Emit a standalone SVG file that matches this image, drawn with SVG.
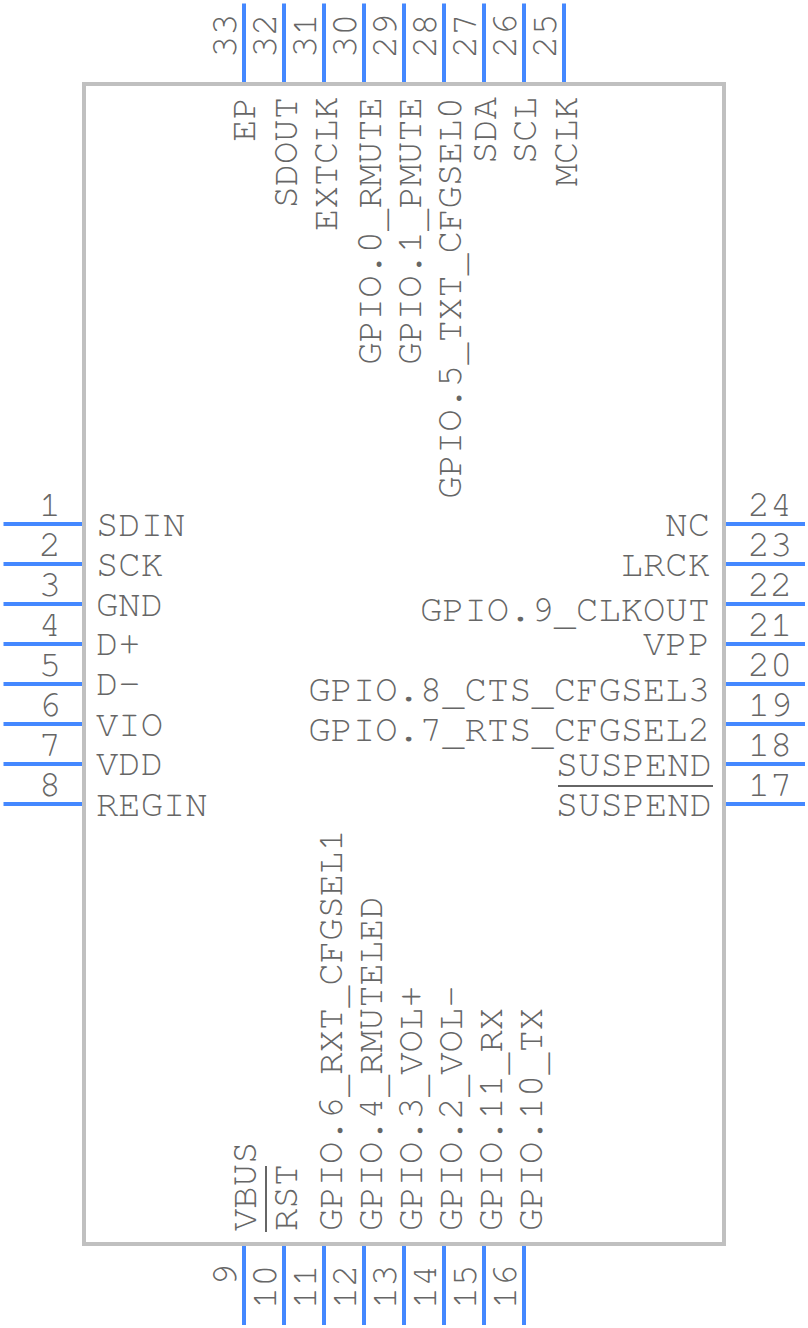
<svg xmlns="http://www.w3.org/2000/svg" width="808" height="1328" viewBox="0 0 808 1328">
<style>
text{font-family:"FreeMono","Liberation Mono",monospace;font-size:37.2px;fill:#666}
.e{text-anchor:end}
.m{text-anchor:middle}
.pin{stroke:#4488ff;stroke-width:4;fill:none}
.bar{stroke:#666;stroke-width:2}
#body rect{fill:#fff;stroke:#c0c0c0;stroke-width:4}
</style>
<rect width="808" height="1328" fill="#fff"/>
<g id="body"><rect x="84" y="84" width="640" height="1160"/></g>
<g id="connectors" class="pin">
<path d="M3.5 524H82M3.5 564H82M3.5 604H82M3.5 644H82M3.5 684H82M3.5 724H82M3.5 764H82M3.5 804H82"/>
<path d="M726 524H805M726 564H805M726 604H805M726 644H805M726 684H805M726 724H805M726 764H805M726 804H805"/>
<path d="M244 3.5V82M284 3.5V82M324 3.5V82M364 3.5V82M404 3.5V82M444 3.5V82M484 3.5V82M524 3.5V82M564 3.5V82"/>
<path d="M244 1246V1325M284 1246V1325M324 1246V1325M364 1246V1325M404 1246V1325M444 1246V1325M484 1246V1325M524 1246V1325"/>
</g>
<g id="left-pins">
<g id="pin1"><text x="50" y="516" class="m">1</text><text x="96" y="536">SDIN</text></g>
<g id="pin2"><text x="50" y="556" class="m">2</text><text x="96" y="576">SCK</text></g>
<g id="pin3"><text x="50" y="596" class="m">3</text><text x="96" y="616">GND</text></g>
<g id="pin4"><text x="50" y="636" class="m">4</text><text x="96" y="655">D+</text></g>
<g id="pin5"><text x="50" y="676" class="m">5</text><text x="96" y="695">D-</text></g>
<g id="pin6"><text x="50" y="716" class="m">6</text><text x="96" y="736">VIO</text></g>
<g id="pin7"><text x="50" y="756" class="m">7</text><text x="96" y="775">VDD</text></g>
<g id="pin8"><text x="50" y="796" class="m">8</text><text x="96" y="816">REGIN</text></g>
</g>
<g id="right-pins">
<g id="pin24"><text x="770" y="516" class="m">24</text><text x="710" y="536" class="e">NC</text></g>
<g id="pin23"><text x="770" y="556" class="m">23</text><text x="710" y="576" class="e">LRCK</text></g>
<g id="pin22"><text x="770" y="596" class="m">22</text><text x="710" y="621" class="e">GPIO.9<tspan dy="4">_</tspan><tspan dy="-4">CLKOUT</tspan></text></g>
<g id="pin21"><text x="770" y="636" class="m">21</text><text x="710" y="655" class="e">VPP</text></g>
<g id="pin20"><text x="770" y="676" class="m">20</text><text x="710" y="701" class="e">GPIO.8<tspan dy="4">_</tspan><tspan dy="-4">CTS</tspan><tspan dy="4">_</tspan><tspan dy="-4">CFGSEL3</tspan></text></g>
<g id="pin19"><text x="770" y="716" class="m">19</text><text x="710" y="741" class="e">GPIO.7<tspan dy="4">_</tspan><tspan dy="-4">RTS</tspan><tspan dy="4">_</tspan><tspan dy="-4">CFGSEL2</tspan></text></g>
<g id="pin18"><text x="770" y="756" class="m">18</text><text x="712" y="776" class="e">SUSPEND</text></g>
<g id="pin17"><text x="770" y="796" class="m">17</text><text x="712" y="816" class="e">SUSPEND</text><path class="bar" d="M558 786H713"/></g>
</g>
<g id="top-pins">
<g id="pin33"><text transform="translate(236 58) rotate(-90)">33</text><text transform="translate(255 97) rotate(-90)" class="e">EP</text></g>
<g id="pin32"><text transform="translate(276 58) rotate(-90)">32</text><text transform="translate(297 97) rotate(-90)" class="e">SDOUT</text></g>
<g id="pin31"><text transform="translate(316 58) rotate(-90)">31</text><text transform="translate(337 97) rotate(-90)" class="e">EXTCLK</text></g>
<g id="pin30"><text transform="translate(356 58) rotate(-90)">30</text><text transform="translate(381 97) rotate(-90)" class="e">GPIO.0<tspan dy="4">_</tspan><tspan dy="-4">RMUTE</tspan></text></g>
<g id="pin29"><text transform="translate(396 58) rotate(-90)">29</text><text transform="translate(421 97) rotate(-90)" class="e">GPIO.1<tspan dy="4">_</tspan><tspan dy="-4">PMUTE</tspan></text></g>
<g id="pin28"><text transform="translate(436 58) rotate(-90)">28</text><text transform="translate(461 97) rotate(-90)" class="e">GPIO.5<tspan dy="4">_</tspan><tspan dy="-4">TXT</tspan><tspan dy="4">_</tspan><tspan dy="-4">CFGSEL0</tspan></text></g>
<g id="pin27"><text transform="translate(476 58) rotate(-90)">27</text><text transform="translate(496 97) rotate(-90)" class="e">SDA</text></g>
<g id="pin26"><text transform="translate(516 58) rotate(-90)">26</text><text transform="translate(536 97) rotate(-90)" class="e">SCL</text></g>
<g id="pin25"><text transform="translate(556 58) rotate(-90)">25</text><text transform="translate(577 97) rotate(-90)" class="e">MCLK</text></g>
</g>
<g id="bottom-pins">
<g id="pin9"><text transform="translate(236 1286) rotate(-90)">9</text><text transform="translate(256 1231) rotate(-90)">VBUS</text></g>
<g id="pin10"><text transform="translate(276 1309) rotate(-90)">10</text><text transform="translate(297 1231) rotate(-90)">RST</text><path class="bar" d="M266 1166V1232"/></g>
<g id="pin11"><text transform="translate(316 1309) rotate(-90)">11</text><text transform="translate(342 1231) rotate(-90)">GPIO.6<tspan dy="4">_</tspan><tspan dy="-4">RXT</tspan><tspan dy="4">_</tspan><tspan dy="-4">CFGSEL1</tspan></text></g>
<g id="pin12"><text transform="translate(356 1309) rotate(-90)">12</text><text transform="translate(382 1231) rotate(-90)">GPIO.4<tspan dy="4">_</tspan><tspan dy="-4">RMUTELED</tspan></text></g>
<g id="pin13"><text transform="translate(396 1309) rotate(-90)">13</text><text transform="translate(422 1231) rotate(-90)">GPIO.3<tspan dy="4">_</tspan><tspan dy="-4">VOL+</tspan></text></g>
<g id="pin14"><text transform="translate(436 1309) rotate(-90)">14</text><text transform="translate(462 1231) rotate(-90)">GPIO.2<tspan dy="4">_</tspan><tspan dy="-4">VOL-</tspan></text></g>
<g id="pin15"><text transform="translate(476 1309) rotate(-90)">15</text><text transform="translate(502 1231) rotate(-90)">GPIO.11<tspan dy="4">_</tspan><tspan dy="-4">RX</tspan></text></g>
<g id="pin16"><text transform="translate(516 1309) rotate(-90)">16</text><text transform="translate(542 1231) rotate(-90)">GPIO.10<tspan dy="4">_</tspan><tspan dy="-4">TX</tspan></text></g>
</g>
</svg>
